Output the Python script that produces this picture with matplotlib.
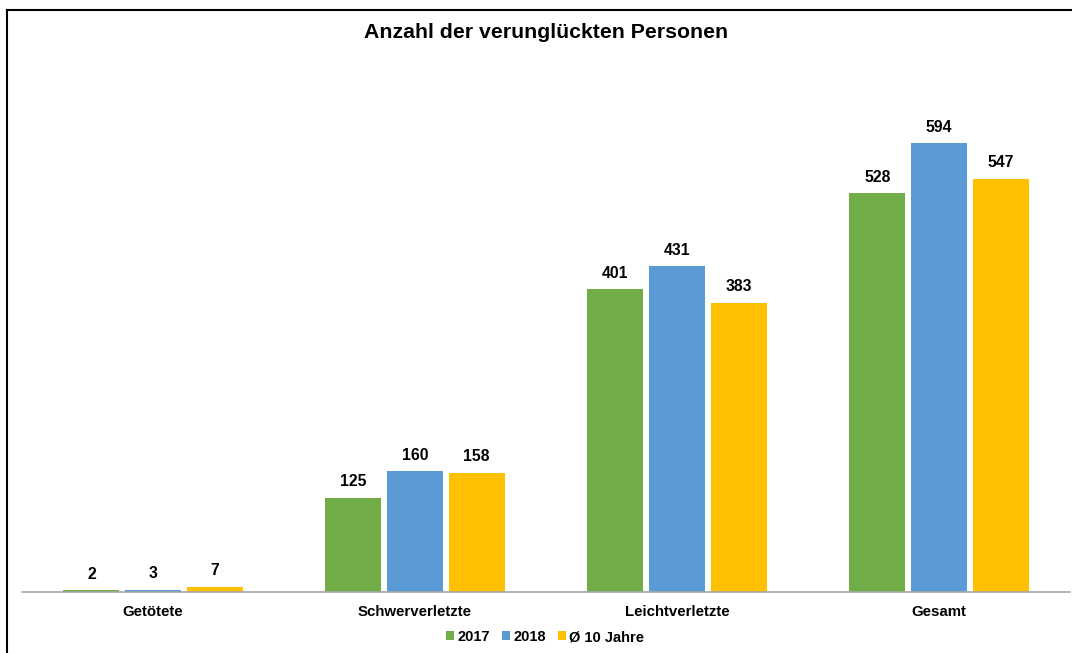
import numpy as np
import matplotlib.pyplot as plt
from matplotlib.lines import Line2D

plt.rcParams['font.family'] = ['Liberation Sans', 'DejaVu Sans']

categories = ['Getötete', 'Schwerverletzte', 'Leichtverletzte', 'Gesamt']
series_names = ['2017', '2018', 'Ø 10 Jahre']
v2017 = [2, 125, 401, 528]
v2018 = [3, 160, 431, 594]
v10j = [7, 158, 383, 547]
colors = ['#70AD47', '#5B9BD5', '#FFC000']

fig = plt.figure(figsize=(10.72, 6.53), dpi=100)
ax = fig.add_axes([22 / 1072, 61 / 653, 1048 / 1072, 529 / 653])

x = np.arange(len(categories))
w = 0.214
off = 0.235
for i, (vals, name) in enumerate(zip([v2017, v2018, v10j], series_names)):
    bars = ax.bar(x + (i - 1) * off, vals, w, color=colors[i], label=name, zorder=2)
    for b, v in zip(bars, vals):
        ax.text(b.get_x() + b.get_width() / 2, v + 11, str(v), ha='center', va='bottom',
                fontsize=11.3, fontweight='bold', color='#000000')

ax.set_xlim(-0.5, len(categories) - 0.5)
ax.set_ylim(0, 700)
ax.set_yticks([])
ax.set_xticks(x)
ax.set_xticklabels(categories, fontsize=10.8, fontweight='bold')
ax.tick_params(axis='x', length=0, pad=9)
for s in ['top', 'right', 'left']:
    ax.spines[s].set_visible(False)
ax.spines['bottom'].set_color('#A6A6A6')
ax.spines['bottom'].set_linewidth(1.2)
ax.spines['bottom'].set_zorder(3)

fig.text(0.509, 1 - 33 / 653, 'Anzahl der verunglückten Personen', ha='center', va='center',
         fontsize=15.3, fontweight='bold')

leg = fig.legend(loc='center', bbox_to_anchor=(545 / 1072, 1 - 637 / 653), ncol=3, frameon=False,
                 prop={'size': 10.5, 'weight': 'bold'}, handlelength=0.55, handleheight=0.55,
                 handletextpad=0.25, columnspacing=0.8)

# frame lines (left and top)
fig.add_artist(Line2D([7 / 1072, 7 / 1072], [0, 1 - 10 / 653], transform=fig.transFigure,
                      color='black', lw=1.5))
fig.add_artist(Line2D([7 / 1072, 1], [1 - 10 / 653, 1 - 10 / 653], transform=fig.transFigure,
                      color='black', lw=1.5))

fig.savefig('out.png', dpi=100)
